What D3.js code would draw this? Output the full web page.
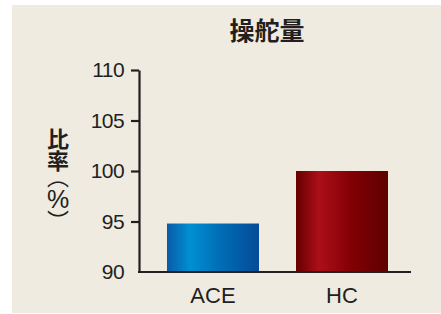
<!DOCTYPE html>
<html>
<head>
<meta charset="utf-8">
<script src="https://cdn.jsdelivr.net/npm/d3@7"></script>
<style>
  body { margin: 0; background: #fff; }
  svg { display: block; }
</style>
</head>
<body>
<div id="chart"></div>
<script>
const categories = ['ACE', 'HC'];
const values = [94.8, 100];
const yTicks = [90, 95, 100, 105, 110];
const title = '操舵量';
const yLabel = ['比', '率', '（', '%', '）'];

const width = 441, height = 314;
const svg = d3.select('#chart').append('svg')
  .attr('width', width)
  .attr('height', height);

// beige panel
svg.append('rect')
  .attr('x', 12).attr('y', 5)
  .attr('width', width - 12).attr('height', 308)
  .attr('fill', '#efebe1');

const defs = svg.append('defs');
function grad(id, stops) {
  const g = defs.append('linearGradient').attr('id', id)
    .attr('x1', '0%').attr('x2', '100%').attr('y1', '0%').attr('y2', '0%');
  stops.forEach(s => g.append('stop').attr('offset', s[0]).attr('stop-color', s[1]));
}
grad('blueGrad', [[0, '#0a5aa8'], [0.25, '#0090d2'], [0.55, '#0070b8'], [1, '#054a98']]);
grad('redGrad', [[0, '#640000'], [0.25, '#ac0f18'], [0.6, '#820005'], [1, '#5e0000']]);
const fills = ['url(#blueGrad)', 'url(#redGrad)'];

const margin = { left: 139, right: 25, top: 70, bottom: 42 };

const x = d3.scaleBand()
  .domain(categories)
  .range([margin.left, width - margin.right])
  .paddingInner(0.287)
  .paddingOuter(0.217);

const y = d3.scaleLinear()
  .domain([90, 110])
  .range([height - margin.bottom, margin.top]);

// bars
svg.selectAll('rect.bar')
  .data(categories)
  .enter().append('rect')
  .attr('class', 'bar')
  .attr('x', d => x(d))
  .attr('width', x.bandwidth())
  .attr('y', (d, i) => y(values[i]))
  .attr('height', (d, i) => y(90) - y(values[i]))
  .attr('fill', (d, i) => fills[i]);

const font = '"Liberation Sans", Arial, sans-serif';
const cjk = '"Noto Sans CJK JP", sans-serif';

// y axis
const yAxis = svg.append('g')
  .attr('transform', `translate(${margin.left},0)`)
  .call(d3.axisLeft(y).tickValues(yTicks).tickSize(8).tickPadding(7).tickSizeOuter(0));
yAxis.select('.domain').attr('stroke', '#231f20').attr('stroke-width', 2.2);
yAxis.selectAll('.tick line').attr('stroke', '#231f20').attr('stroke-width', 2.2);
yAxis.selectAll('.tick text')
  .attr('fill', '#231f20')
  .style('font-family', font)
  .style('font-size', '21px')
  .style('letter-spacing', '-0.6px');
// no tick mark at the baseline
yAxis.selectAll('.tick').filter(d => d === 90).select('line').remove();

// x axis baseline
svg.append('line')
  .attr('x1', margin.left - 1).attr('x2', 411)
  .attr('y1', y(90)).attr('y2', y(90))
  .attr('stroke', '#231f20').attr('stroke-width', 2.2);

// category labels
svg.selectAll('text.cat')
  .data(categories)
  .enter().append('text')
  .attr('class', 'cat')
  .attr('x', d => x(d) + x.bandwidth() / 2)
  .attr('y', 303)
  .attr('text-anchor', 'middle')
  .attr('fill', '#231f20')
  .style('font-family', font)
  .style('font-size', '22px')
  .text(d => d);

// title
svg.append('text')
  .attr('x', 267).attr('y', 40)
  .attr('text-anchor', 'middle')
  .attr('fill', '#231f20')
  .style('font-family', cjk)
  .style('font-size', '25px')
  .style('font-weight', 'bold')
  .text(title);

// vertical y label
const spacing = [0, -6, -3, -3, 0];
const yl = svg.append('text')
  .attr('x', 58).attr('y', 128)
  .attr('fill', '#231f20')
  .style('font-family', cjk)
  .style('font-size', '22px')
  .style('font-weight', 'bold')
  .style('writing-mode', 'vertical-rl');
yLabel.forEach((ch, i) => {
  const t = yl.append('tspan')
    .style('letter-spacing', spacing[i] + 'px')
    .style('font-weight', i < 2 ? 'bold' : 'normal')
    .text(ch);
  if (ch === '%') {
    t.style('font-family', font)
      .style('font-size', '25px')
      .style('text-orientation', 'upright');
  }
});
</script>
</body>
</html>
